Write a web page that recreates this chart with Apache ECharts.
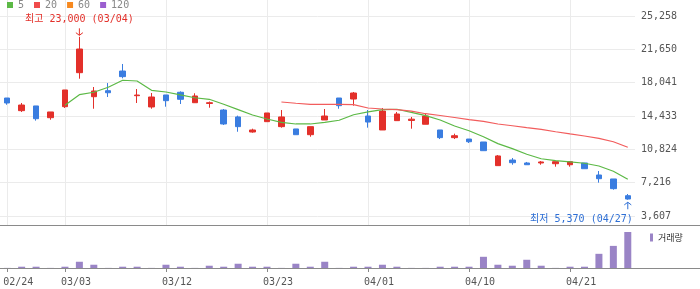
<!DOCTYPE html>
<html><head><meta charset="utf-8">
<script src="https://cdn.jsdelivr.net/npm/echarts@6/dist/echarts.min.js"></script>
<style>html,body{margin:0;padding:0;background:#fff}#c{width:700px;height:289px}</style>
</head><body><div id="c"></div>
<script>
const dates = ['02/24','02/25','02/26','02/27','03/03','03/04','03/05','03/06','03/09','03/10','03/11','03/12','03/13','03/16','03/17','03/18','03/19','03/20','03/23','03/24','03/25','03/26','03/27','03/30','03/31','04/01','04/02','04/03','04/06','04/07','04/08','04/09','04/10','04/13','04/14','04/15','04/16','04/17','04/20','04/21','04/22','04/23','04/24','04/27'];
const opens  = [16380,15010,15520,14250,15440,19120,16520,17170,19300,16630,15410,16710,17000,15870,15790,15080,14330,12700,13820,13280,13030,12410,14000,16380,16270,14430,12920,13930,13950,13540,12920,12090,11940,11620,9060,9670,9350,9350,9270,9160,9350,8050,7620,5810];
const closes = [15840,15620,14140,14870,17250,21680,17140,16950,18690,16700,16490,16090,16240,16600,15870,13570,13280,12920,14760,14330,12410,13280,14430,15550,16920,13780,14970,14650,14090,14430,12090,12300,11650,10680,10110,9380,9160,9460,9490,9490,8730,7650,6570,5450];
const lows   = [15650,14870,13930,14030,15300,18470,15220,16490,18510,15840,15220,15440,15730,15850,15330,13460,12730,12630,13820,13170,12410,12190,14000,15220,15550,13170,12920,13930,13060,13540,11940,11940,11510,10680,9060,9160,9160,9160,8950,8950,8730,7220,6460,5370];
const highs  = [16380,15840,15520,14870,17250,23000,17570,18000,20060,17350,16920,16710,17100,16890,16000,15190,14470,13060,14760,15080,13030,13280,15190,16380,17030,15080,15300,14870,14330,14720,12920,12520,11940,11620,10210,9890,9460,9560,9490,9560,9350,8480,7620,5990];
const ma5  = ['-','-','-','-',15600,16740,17000,17540,18300,18220,17210,17030,16710,16410,16240,15700,15120,14540,14110,13750,13570,13570,13750,13970,14570,14870,15120,15160,14830,14470,14000,13350,12840,12190,11440,10900,10290,9810,9600,9460,9320,9020,8450,7580];
const ma20 = ['-','-','-','-','-','-','-','-','-','-','-','-','-','-','-','-','-','-','-',15950,15810,15700,15700,15700,15660,15300,15190,15120,14970,14680,14490,14270,14050,13860,13570,13380,13170,12990,12730,12490,12270,12020,11650,11050];
const ma60 = [];
const ma120 = [];
const volumes = [10000,130000,130000,10000,130000,630000,330000,10000,130000,130000,10000,330000,130000,10000,230000,130000,430000,130000,130000,10000,430000,130000,630000,10000,130000,130000,330000,130000,10000,10000,130000,130000,130000,1130000,330000,230000,830000,230000,10000,130000,130000,1430000,2230000,3630000];
const yTicks = [3607, 7216, 10824, 14433, 18041, 21650, 25258];
const xTickLabels = ['02/24','03/03','03/12','03/23','04/01','04/10','04/21'];
const maNames = ['5','20','60','120'];
const volName = '거래량';

const MONO = '"DejaVu Sans Mono", "Noto Sans CJK KR", monospace';
const CJK = '"Noto Sans CJK KR", sans-serif';
const RED = '#e3302a', BLUE = '#3a7de0';
const fmt = v => String(Math.round(v)).replace(/\B(?=(\d{3})+(?!\d))/g, ',');
const isTick = (i, v) => xTickLabels.indexOf(v) >= 0;

const kData = dates.map((d, i) => [opens[i], closes[i], lows[i], highs[i]]);
let hiIdx = 0, loIdx = 0;
highs.forEach((h, i) => { if (h > highs[hiIdx]) hiIdx = i; });
lows.forEach((l, i) => { if (l < lows[loIdx]) loIdx = i; });

const chart = echarts.init(document.getElementById('c'), null, {renderer: 'canvas'});
chart.setOption({
  animation: false,
  backgroundColor: '#fff',
  legend: [
    {data: maNames, left: 7, top: 0, padding: 0, icon: 'rect', itemWidth: 6, itemHeight: 6, itemGap: 10,
     textStyle: {color: '#888', fontSize: 10, fontFamily: MONO}},
    {data: [volName], left: 650, top: 233, padding: 0, icon: 'rect', itemWidth: 3, itemHeight: 8,
     textStyle: {color: '#333', fontSize: 9, fontFamily: CJK}}
  ],
  grid: [
    {left: 0, top: 0, width: 635, height: 225},
    {left: 0, top: 232, width: 635, height: 36}
  ],
  xAxis: [
    {type: 'category', gridIndex: 0, data: dates, boundaryGap: true,
     axisLine: {show: false}, axisTick: {show: false}, axisLabel: {show: false},
     splitLine: {show: true, alignWithLabel: true, interval: isTick, lineStyle: {color: '#ebebeb', width: 1}}},
    {type: 'category', gridIndex: 1, data: dates, boundaryGap: true,
     axisLine: {show: false},
     axisTick: {show: true, alignWithLabel: true, interval: isTick, length: 4, lineStyle: {color: '#888'}},
     axisLabel: {interval: isTick, color: '#555', fontSize: 10, fontFamily: MONO, align: 'left', padding: [0, 0, 0, -4], margin: 9},
     splitLine: {show: false}}
  ],
  yAxis: [
    {type: 'value', gridIndex: 0, position: 'right', min: 2639, max: 26984, scale: true,
     axisLine: {show: false},
     axisTick: {show: false, customValues: yTicks},
     axisLabel: {customValues: yTicks, formatter: v => fmt(v), color: '#555', fontSize: 10, fontFamily: MONO, margin: 6},
     splitLine: {show: true, lineStyle: {color: '#ebebeb', width: 1}}},
    {type: 'value', gridIndex: 1, min: 0, max: 'dataMax', show: false, splitLine: {show: false}}
  ],
  series: [
    {type: 'candlestick', name: 'K', xAxisIndex: 0, yAxisIndex: 0, data: kData, barWidth: 6,
     itemStyle: {color: RED, color0: BLUE, borderColor: RED, borderColor0: BLUE, borderWidth: 1},
     markPoint: {
       silent: true,
       data: [
         {coord: [dates[hiIdx], highs[hiIdx]], symbol: 'path://M3,0L3,8M0,5L3,8L6,5', symbolSize: [7, 7], symbolOffset: [0, -5],
          itemStyle: {color: 'none', borderColor: RED, borderWidth: 1},
          label: {show: true, position: 'top', distance: 3, offset: [0, 2], formatter: '최고 ' + fmt(highs[hiIdx]) + ' (' + dates[hiIdx] + ')',
                  color: RED, fontSize: 10, fontFamily: MONO}},
         {coord: [dates[loIdx], lows[loIdx]], symbol: 'path://M3,8L3,0M0,3L3,0L6,3', symbolSize: [7, 7], symbolOffset: [0, 6],
          itemStyle: {color: 'none', borderColor: '#2e6fd5', borderWidth: 1},
          label: {show: true, position: 'bottom', distance: 3, align: 'right', offset: [5, 0],
                  formatter: '최저 ' + fmt(lows[loIdx]) + ' (' + dates[loIdx] + ')',
                  color: '#2e6fd5', fontSize: 10, fontFamily: MONO}}
       ]
     }},
    {type: 'line', name: maNames[0], data: ma5, xAxisIndex: 0, yAxisIndex: 0, symbol: 'none', color: '#5cb946',
     lineStyle: {width: 1.2, color: '#5cb946'}},
    {type: 'line', name: maNames[1], data: ma20, xAxisIndex: 0, yAxisIndex: 0, symbol: 'none', color: '#f04b4b',
     lineStyle: {width: 1.2, color: '#f25c5c'}},
    {type: 'line', name: maNames[2], data: ma60, xAxisIndex: 0, yAxisIndex: 0, symbol: 'none', color: '#f7891f'},
    {type: 'line', name: maNames[3], data: ma120, xAxisIndex: 0, yAxisIndex: 0, symbol: 'none', color: '#9b5fcf'},
    {type: 'bar', name: volName, data: volumes, xAxisIndex: 1, yAxisIndex: 1, barWidth: 7, color: '#9a84c6'}
  ],
  graphic: [
    {type: 'line', silent: true, shape: {x1: 0, y1: 225.5, x2: 700, y2: 225.5}, style: {stroke: '#8a8a8a', lineWidth: 1}},
    {type: 'line', silent: true, shape: {x1: 0, y1: 268.5, x2: 700, y2: 268.5}, style: {stroke: '#8a8a8a', lineWidth: 1}}
  ]
});
</script></body></html>
